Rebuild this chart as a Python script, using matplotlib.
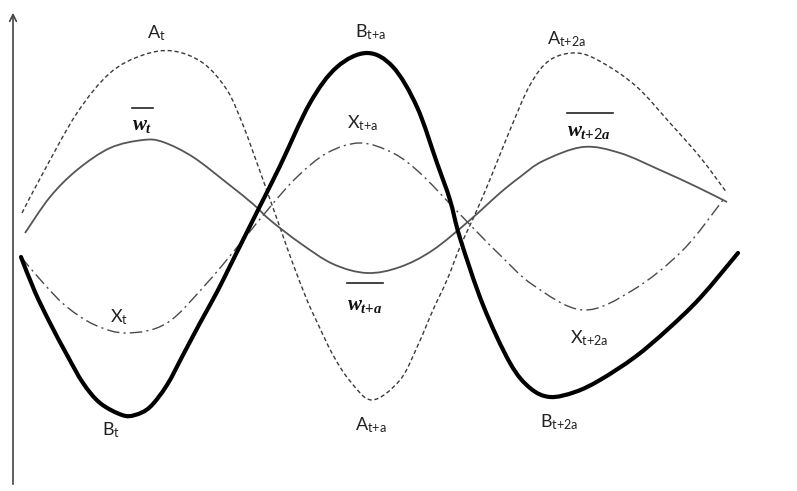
import matplotlib
matplotlib.use("Agg")
import numpy as np
from matplotlib import pyplot as plt
from matplotlib.path import Path
from matplotlib.patches import PathPatch

plt.rcParams['mathtext.fontset'] = 'custom'
plt.rcParams['mathtext.rm'] = 'Lato'
plt.rcParams['mathtext.it'] = 'Liberation Serif:italic:bold'
plt.rcParams['mathtext.bf'] = 'Liberation Serif:bold'

H = 491  # picture height, levels are measured down from the top edge

# curves (x, depth from top edge)
a_x = [22, 43, 77, 110, 143, 173, 203, 227, 243, 257, 267, 277, 283, 293, 307, 317, 333, 350,
       372, 400, 418, 433, 447, 460, 477, 493, 510, 530, 550, 577, 603, 637, 670, 700, 727]
a_y = [213, 173, 113, 73, 55, 51, 63, 90, 125, 163, 191, 219, 236, 264, 300, 322, 355, 381,
       400, 380, 345, 310, 280, 247, 210, 172, 130, 85, 60, 53, 63, 87, 123, 157, 193]

b_x = [21, 35, 50, 67, 83, 100, 122, 135, 150, 167, 183, 200, 217, 230, 243, 260, 280, 310, 337,
       367, 393, 417, 437, 450, 460, 483, 510, 530, 550, 575, 600, 635, 667, 700, 738]
b_y = [257, 292, 323, 355, 383, 403, 415, 415, 407, 385, 355, 323, 292, 266, 240, 206, 166, 103, 67,
       53, 67, 107, 163, 200, 238, 305, 363, 388, 397, 392, 380, 357, 330, 298, 253]

x_x = [21, 45, 67, 95, 127, 167, 207, 243, 270, 297, 327, 360, 393, 420, 453, 480, 500, 533,
       583, 633, 683, 723]
x_y = [257, 285, 307, 325, 333, 323, 283, 240, 207, 177, 153, 143, 153, 173, 207, 235, 255, 285,
       310, 290, 250, 200]

w_x = [25, 50, 77, 110, 143, 163, 193, 227, 253, 270, 300, 333, 367, 400, 433, 470, 500, 520,
       543, 583, 620, 660, 697, 727]
w_y = [233, 197, 170, 148, 140, 142, 157, 183, 204, 220, 243, 264, 273, 267, 250, 220, 193, 177,
       161, 147, 153, 170, 187, 202]

# labels: text, left x, baseline (from top)
labels = [
    (r'A$_{\mathrm{t}}$', 147, 38),
    (r'B$_{\mathrm{t{+}a}}$', 355, 37),
    (r'A$_{\mathrm{t{+}2a}}$', 547, 44),
    (r'X$_{\mathrm{t{+}a}}$', 347, 128),
    (r'X$_{\mathrm{t}}$', 110, 322),
    (r'B$_{\mathrm{t}}$', 102, 435),
    (r'A$_{\mathrm{t{+}a}}$', 355, 430),
    (r'X$_{\mathrm{t{+}2a}}$', 570, 343),
    (r'B$_{\mathrm{t{+}2a}}$', 540, 427),
]
w_labels = [
    (r'$\mathit{w_{t}}$', 132, 130, 132, 153, 108),
    (r'$\mathit{w_{t{+}a}}$', 347, 310, 347, 383, 283),
    (r'$\mathit{w_{t{+}2a}}$', 567, 136, 567, 613, 113),
]


def smooth_path(xs, ys):
    # catmull-rom through the read points, handed to matplotlib as cubic bezier
    p = np.column_stack([xs, [H - v for v in ys]]).astype(float)
    p = np.vstack([p[0], p, p[-1]])
    verts = [p[1]]
    codes = [Path.MOVETO]
    for i in range(1, len(p) - 2):
        c1 = p[i] + (p[i + 1] - p[i - 1]) / 6.0
        c2 = p[i + 1] - (p[i + 2] - p[i]) / 6.0
        verts += [c1, c2, p[i + 1]]
        codes += [Path.CURVE4] * 3
    return Path(verts, codes)


fig = plt.figure(figsize=(7.97, 4.91), dpi=100)
ax = fig.add_axes([0, 0, 1, 1])
ax.set_xlim(0, 797)
ax.set_ylim(0, H)
ax.axis('off')

ax.add_patch(PathPatch(smooth_path(a_x, a_y), fill=False, edgecolor='#3a3a3a', lw=1.0,
                       linestyle=(0, (3, 2))))
ax.add_patch(PathPatch(smooth_path(x_x, x_y), fill=False, edgecolor='#4a4a4a', lw=1.0,
                       linestyle=(0, (9, 3, 1.5, 3))))
ax.add_patch(PathPatch(smooth_path(w_x, w_y), fill=False, edgecolor='#555555', lw=1.3))
ax.add_patch(PathPatch(smooth_path(b_x, b_y), fill=False, edgecolor='black', lw=3.0,
                       capstyle='round'))

# axes with arrow heads
ax.annotate('', xy=(13, H - 10), xytext=(13, H - 487),
            arrowprops=dict(arrowstyle='->', color='#444444', lw=1.2, mutation_scale=12))
ax.annotate('', xy=(799, H - 486), xytext=(12, H - 486),
            arrowprops=dict(arrowstyle='->', color='#444444', lw=1.6, mutation_scale=12))

for txt, lx, by in labels:
    ax.text(lx, H - by, txt, fontsize=13, family='Lato', color='#222222',
            ha='left', va='baseline')

for txt, lx, by, ox0, ox1, oy in w_labels:
    ax.text(lx, H - by, txt, fontsize=15, color='#111111', ha='left', va='baseline')
    ax.plot([ox0, ox1], [H - oy, H - oy], color='#222222', lw=1.2)

plt.savefig('out.png', dpi=100)
